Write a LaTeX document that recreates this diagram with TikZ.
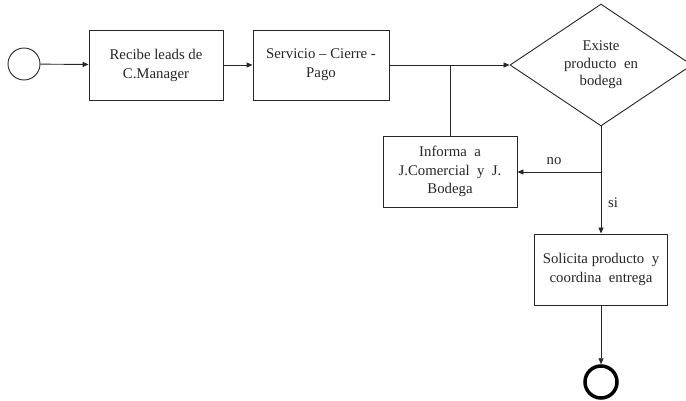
\documentclass[tikz,border=0pt]{standalone}
\usepackage{fontspec}
\setmainfont{Liberation Serif}
\usetikzlibrary{arrows.meta,shapes.geometric}
\begin{document}
\begin{tikzpicture}[x=1pt,y=-1pt,
  ln/.style={line width=0.9pt, draw=black!85},
  arr/.style={ln, -{Triangle[length=6pt,width=5pt]}},
  txt/.style={font=\fontsize{14.8}{19}\selectfont, align=center, text=black!85},
  box/.style={ln, txt, rectangle, inner sep=0pt}]
\useasboundingbox (0,0) rectangle (686,401);
\node[ln, circle, minimum size=32pt, inner sep=0pt] (start) at (24,64) {};
\node[box, minimum width=134pt, minimum height=70pt] (recibe) at (156,65) {Recibe leads de\\C.Manager};
\node[box, minimum width=136pt, minimum height=70pt] (servicio) at (321,65) {Servicio -- Cierre -\\Pago};
\node[ln, txt, diamond, minimum width=182pt, minimum height=120pt, inner sep=0pt, font=\fontsize{14.8}{17.5}\selectfont] (dec) at (601,65) {Existe\\producto\ \ en\\bodega};
\node[box, minimum width=134pt, minimum height=71pt, font=\fontsize{14.8}{18.5}\selectfont] (informa) at (450,171.5) {Informa\ \ a\\J.Comercial\ \ y\ \ J.\\Bodega};
\node[box, minimum width=133pt, minimum height=71pt] (solicita) at (601,269.5) {Solicita producto\ \ y\\coordina\ \ entrega};
\node[circle, draw=black, line width=3.5pt, minimum size=32pt, inner sep=0pt] (end) at (601,382) {};
\coordinate (j) at (450,65);
\coordinate (b) at (601,172);
\draw[arr] (start) -- (recibe);
\draw[arr] (recibe) -- (servicio);
\draw[arr] (servicio) -- (dec);
\draw[ln] (j) -- (informa);
\draw[arr] (dec) -- (solicita);
\draw[arr] (b) -- (b -| informa.east);
\draw[arr] (solicita) -- (end);
\node[txt] (no) at (554,161) {no};
\node[txt] (si) at (613,203) {si};
\end{tikzpicture}
\end{document}
